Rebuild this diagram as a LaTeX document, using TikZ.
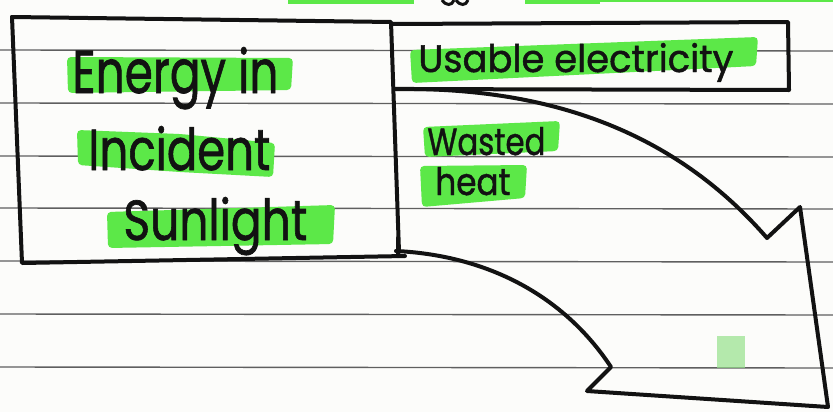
\documentclass[tikz,border=0pt]{standalone}
\usepackage{fontspec}
\setmainfont{Poppins}
\newfontfamily\hand[FakeBold=1.2]{Poppins}
\usepackage{graphicx}
\definecolor{hl}{RGB}{92,232,72}
\definecolor{hlfaint}{RGB}{150,225,140}
\definecolor{rule}{RGB}{95,95,95}
\definecolor{ink}{RGB}{18,18,18}
\definecolor{paper}{RGB}{252,252,250}
\tikzset{
  ruled/.style={draw=rule, line width=0.7pt},
  inkline/.style={draw=ink, line width=2pt, line join=round, line cap=round},
  highlight/.style={fill=hl, draw=none, rounded corners=2pt},
  word/.style={anchor=base west, inner sep=0pt, text=ink, font=\hand}
}
\begin{document}
\begin{tikzpicture}[x=0.5pt,y=-0.5pt]
\fill[paper] (0,0) rectangle (833,412);
\useasboundingbox (0,0) rectangle (833,412);
% ruled lines
\foreach \yy in {50,103,156,208,261,314,367} {
  \draw[ruled] (0,\yy) -- (833,\yy+1);
}
% bits from the row above
\fill[hl] (288,0) rectangle (414,4);
\fill[hl] (525,0) rectangle (600,4);
\fill[hl] (600,0) rectangle (833,2);
\draw[ink, line width=1.5pt] (442,0) .. controls (446,6) and (452,6) .. (454,0);
\draw[ink, line width=1.5pt] (456,0) .. controls (460,6) and (466,6) .. (468,0);
% faint green smudge
\fill[hlfaint, opacity=0.7] (717,336) rectangle (745,368);
% highlights
\fill[highlight] (67,57) -- (293,58) -- (291,90) -- (68,93) -- cycle;
\fill[highlight] (77,130) -- (180,134) -- (275,143) -- (273,177) -- (180,172) -- (78,165) -- cycle;
\fill[highlight] (107,212) -- (335,205) -- (333,244) -- (108,248) -- cycle;
\fill[highlight] (410,50) -- (758,37) -- (756,66) -- (412,83) -- cycle;
\fill[highlight] (423,127) -- (560,121) -- (558,151) -- (425,157) -- cycle;
\fill[highlight] (420,166) -- (527,165) -- (525,198) -- (422,207) -- cycle;
% texts
\node[word] (energy) at (72,93) {\resizebox{103pt}{23pt}{Energy in}};
\node[word] (incident) at (88,170) {\resizebox{91pt}{22pt}{Incident}};
\node[word] (sunlight) at (123,240) {\resizebox{92pt}{21.5pt}{Sunlight}};
\node[word] (usable) at (418,72) {\resizebox{157.5pt}{14.5pt}{Usable electricity}};
\node[word] (wasted) at (427,155) {\resizebox{59pt}{14pt}{Wasted}};
\node[word] (heat) at (435,195) {\resizebox{37.5pt}{14pt}{heat}};
% corner coordinates
\coordinate (inTL) at (12,17);
\coordinate (inTR) at (391,22);
\coordinate (inBR) at (399,252);
\coordinate (inBL) at (22,263);
\coordinate (elTL) at (393,24);
\coordinate (elTR) at (788,22);
\coordinate (elBR) at (789,90);
\coordinate (elBL) at (396,89);
\coordinate (tip) at (767,238);
\coordinate (barbUp) at (800,207);
\coordinate (outBR) at (828,407);
\coordinate (outBL) at (587,391);
\coordinate (barbLow) at (611,367);
\coordinate (lowStart) at (396,251);
% input box
\draw[inkline] (inTL) -- (inTR) -- (inBR);
\draw[inkline] (inTL) -- (inBL) -- (405,256);
% usable electricity box
\draw[inkline] (elTL) -- (elTR) -- (elBR) -- (elBL);
% wasted heat arrow
\draw[inkline] (elBL) .. controls (560,87) and (680,138) .. (tip) -- (barbUp) -- (outBR) -- (outBL) -- (barbLow)
  .. controls (560,290) and (480,255) .. (lowStart);
\draw[inkline] (398,238) -- (398,256);
\end{tikzpicture}
\end{document}
